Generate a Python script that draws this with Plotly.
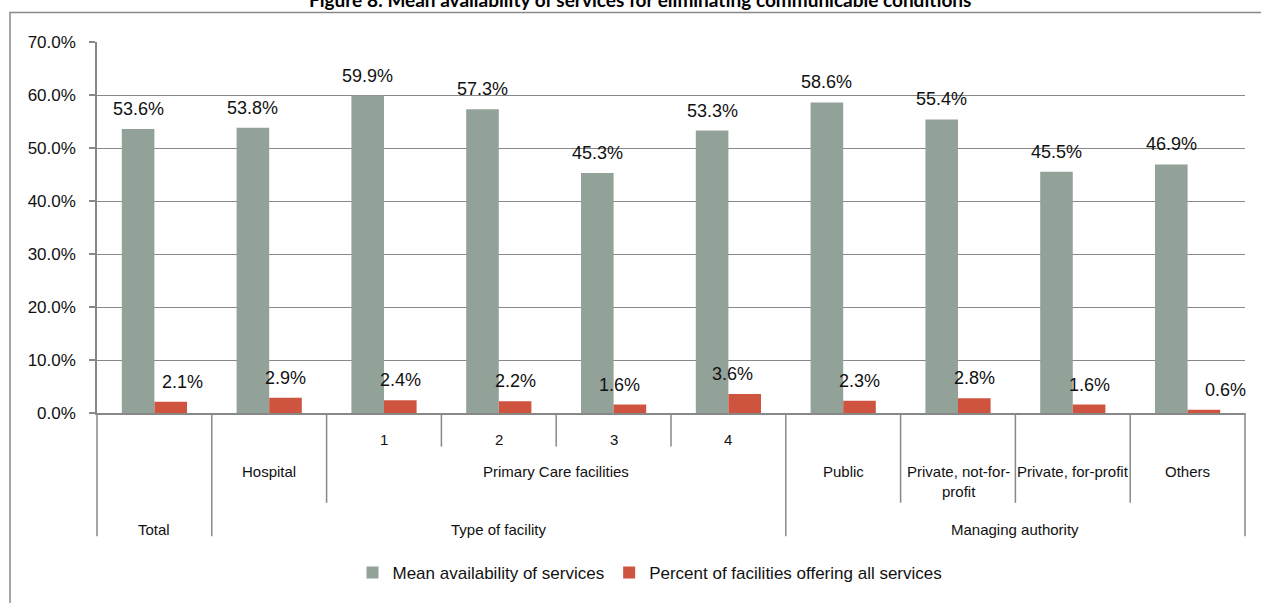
import plotly.graph_objects as go

# ---------------- data ----------------
title_text = "Figure 8: Mean availability of services for eliminating communicable conditions"
level3 = ["Total", "Type of facility", "Type of facility", "Type of facility", "Type of facility",
          "Type of facility", "Managing authority", "Managing authority", "Managing authority",
          "Managing authority"]
level2 = ["", "Hospital", "Primary Care facilities", "Primary Care facilities", "Primary Care facilities",
          "Primary Care facilities", "Public", "Private, not-for-profit", "Private, for-profit", "Others"]
level1 = ["", "", "1", "2", "3", "4", "", "", "", ""]
mean_availability = [53.6, 53.8, 59.9, 57.3, 45.3, 53.3, 58.6, 55.4, 45.5, 46.9]
percent_all_services = [2.1, 2.9, 2.4, 2.2, 1.6, 3.6, 2.3, 2.8, 1.6, 0.6]
series_names = ["Mean availability of services", "Percent of facilities offering all services"]
y_ticks = [0, 10, 20, 30, 40, 50, 60, 70]

# ---------------- styling / geometry ----------------
W, H = 1261, 603
ML, MR, MT, MB = 97, 16, 42, 185
PW, PH = W - ML - MR, H - MT - MB
FONT = "Liberation Sans, Arial, sans-serif"
GREY = "#93A299"
RED = "#CF543F"
LINE = "#888888"
TXT = "#111111"
BARGAP = 0.432
red_label_xshift = [12, 0, 0, 0, -10, -12, 0, 0, 0, 22]

n = len(mean_availability)
xs = list(range(n))
bw = (1 - BARGAP) / 2


def py(p):  # pixel y -> paper y
    return (H - MB - p) / PH


def pxp(p):  # pixel x -> paper x
    return (p - ML) / PW


def xp(v):  # data x -> paper x
    return (v + 0.5) / n


fig = go.Figure()
fig.add_trace(go.Bar(x=xs, y=mean_availability, name=series_names[0],
                     marker=dict(color=GREY, line=dict(width=0))))
fig.add_trace(go.Bar(x=xs, y=percent_all_services, name=series_names[1],
                     marker=dict(color=RED, line=dict(width=0))))

annotations = []
# data labels
for i in xs:
    annotations.append(dict(x=i - bw / 2, y=mean_availability[i], xref="x", yref="y",
                            text=f"{mean_availability[i]:.1f}%", showarrow=False,
                            yanchor="middle", yshift=20,
                            font=dict(family=FONT, size=18, color=TXT)))
    annotations.append(dict(x=i + bw / 2, y=percent_all_services[i], xref="x", yref="y",
                            text=f"{percent_all_services[i]:.1f}%", showarrow=False,
                            yanchor="middle", yshift=20, xshift=red_label_xshift[i],
                            font=dict(family=FONT, size=18, color=TXT)))

# hierarchical category labels
def runs(labels):
    out = []
    start = 0
    for i in range(1, n + 1):
        if i == n or labels[i] != labels[start]:
            if labels[start]:
                out.append((labels[start], (start + i - 1) / 2))
            start = i
    return out

CAT = 15
wrap = {"Private, not-for-profit": "Private, not-for-<br>profit"}
for lab, cx in runs(level1):
    annotations.append(dict(x=cx, y=py(445), xref="x", yref="paper", text=lab, showarrow=False,
                            yanchor="middle", font=dict(family=FONT, size=CAT, color=TXT)))
for lab, cx in runs(level2):
    annotations.append(dict(x=cx, y=py(467), xref="x", yref="paper", text=wrap.get(lab, lab),
                            showarrow=False, yanchor="top",
                            font=dict(family=FONT, size=CAT, color=TXT)))
for lab, cx in runs(level3):
    annotations.append(dict(x=cx, y=py(536), xref="x", yref="paper", text=lab, showarrow=False,
                            yanchor="middle", font=dict(family=FONT, size=CAT, color=TXT)))

# title (partly cut at the top, as in the source)
annotations.append(dict(x=pxp(640), y=py(13), xref="paper", yref="paper", text=f"<b>{title_text}</b>",
                        showarrow=False, xanchor="center", yanchor="bottom",
                        font=dict(family="Lato, Open Sans, sans-serif", size=19, color="#000000")))

shapes = []
# outer chart frame
shapes.append(dict(type="rect", xref="paper", yref="paper", x0=pxp(10), x1=pxp(W + 20),
                   y0=py(H + 20), y1=py(12), line=dict(color=LINE, width=1.5)))
# category separators
depth_full, depth_mid, depth_low = 543, 509, 452
for b in range(n + 1):
    if b == 0 or b == n or level3[b - 1] != level3[b]:
        d = depth_full
    elif level2[b - 1] != level2[b]:
        d = depth_mid
    elif level1[b - 1] != level1[b]:
        d = depth_low
    else:
        continue
    shapes.append(dict(type="line", xref="paper", yref="paper", x0=xp(b - 0.5), x1=xp(b - 0.5),
                       y0=py(H - MB), y1=py(d), line=dict(color=LINE, width=1.5)))

fig.update_layout(
    width=W, height=H,
    margin=dict(l=ML, r=MR, t=MT, b=MB, pad=0),
    paper_bgcolor="white", plot_bgcolor="white",
    barmode="group", bargap=BARGAP, bargroupgap=0,
    font=dict(family=FONT, color=TXT),
    xaxis=dict(range=[-0.5, n - 0.5], showticklabels=False, showgrid=False, zeroline=False,
               showline=True, linecolor=LINE, linewidth=1.5, ticks=""),
    yaxis=dict(range=[0, 70], tickvals=y_ticks, ticktext=[f"{v:.1f}%" for v in y_ticks],
               showgrid=True, gridcolor=LINE, gridwidth=1.3, zeroline=False,
               showline=True, linecolor=LINE, linewidth=1.5, ticks="outside", ticklen=6,
               tickcolor=LINE, tickwidth=1.5, ticklabelstandoff=10,
               tickfont=dict(family=FONT, size=17, color=TXT)),
    legend=dict(orientation="h", x=pxp(650), xanchor="center", y=py(580), yanchor="middle",
                font=dict(family=FONT, size=17, color=TXT), itemwidth=30, traceorder="normal"),
    annotations=annotations,
    shapes=shapes,
)

fig.write_html("out.html", config={"displayModeBar": False},
               post_script="document.body.style.margin='0';")
